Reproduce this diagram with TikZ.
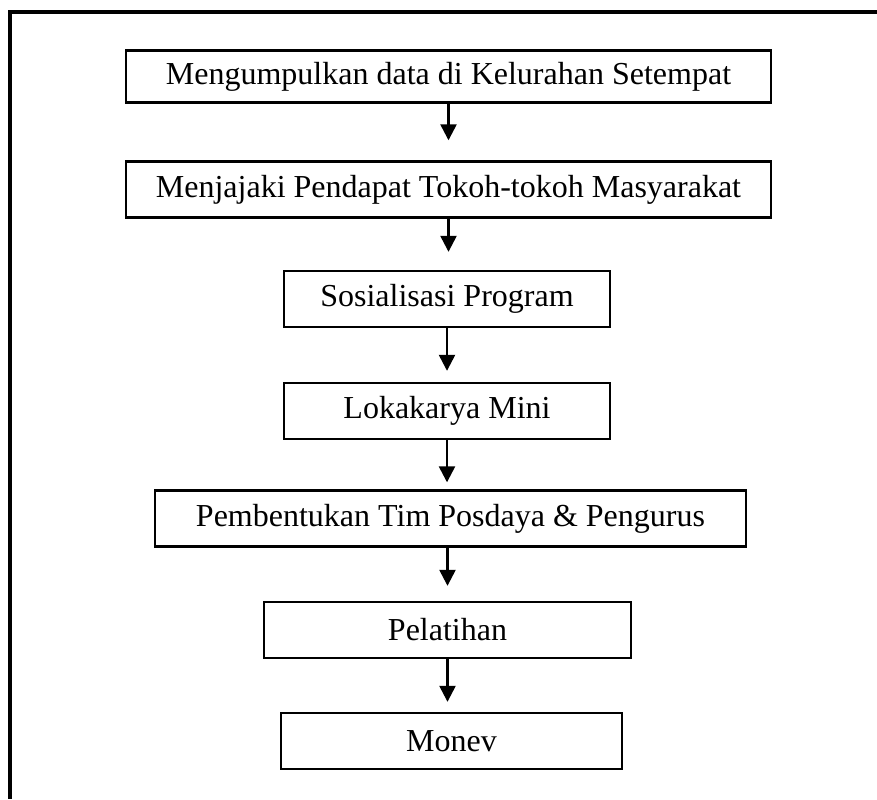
\documentclass[tikz,border=0pt]{standalone}
\usepackage{fontspec}
\setmainfont{Liberation Serif}
\usetikzlibrary{positioning, arrows.meta, calc}

\begin{document}
\begin{tikzpicture}[x=0.5pt, y=-0.5pt]

\tikzstyle{tahap}=[rectangle, draw=black, line width=1.2pt, minimum height=28pt, inner sep=0pt, font=\fontsize{16}{19}\selectfont]
\tikzstyle{panah}=[line width=1.2pt, -{Triangle[length=8pt, width=8pt]}]
\tikzstyle{bingkai}=[line width=2.2pt]

\useasboundingbox (0,0) rectangle (877,799);

\node (s1) at (448.5, 76.5) [tahap, minimum width=322.5pt, minimum height=26pt] {Mengumpulkan data di Kelurahan Setempat};
\node (s2) at (448.5, 189.5) [tahap, minimum width=322.5pt] {Menjajaki Pendapat Tokoh-tokoh Masyarakat};
\node (s3) at (447, 299) [tahap, minimum width=163pt] {Sosialisasi Program};
\node (s4) at (447, 411) [tahap, minimum width=163pt] {Lokakarya Mini};
\node (s5) at (450.5, 518.5) [tahap, minimum width=295.5pt] {Pembentukan Tim Posdaya \& Pengurus};
\node (s6) at (447.5, 630) [tahap, minimum width=183.5pt] {Pelatihan};
\node (s7) at (451.5, 741) [tahap, minimum width=170.5pt] {Monev};


\draw [panah, shorten >=10pt] (s1.south) -- (s1.south |- s2.north);
\draw [panah, shorten >=9pt] (s2.south) -- (s2.south |- s3.north);
\draw [panah, shorten >=5.5pt] (s3.south) -- (s3.south |- s4.north);
\draw [panah, shorten >=3.5pt] (s4.south) -- (s4.south |- s5.north);
\draw [panah, shorten >=7.5pt] (s6.north |- s5.south) -- (s6.north);
\draw [panah, shorten >=5pt] (s6.south) -- (s6.south |- s7.north);

%% frame, cut off at right and bottom
\draw [bingkai] (877, 12) -- (10, 12) -- (10, 799);
\end{tikzpicture}
\end{document}
